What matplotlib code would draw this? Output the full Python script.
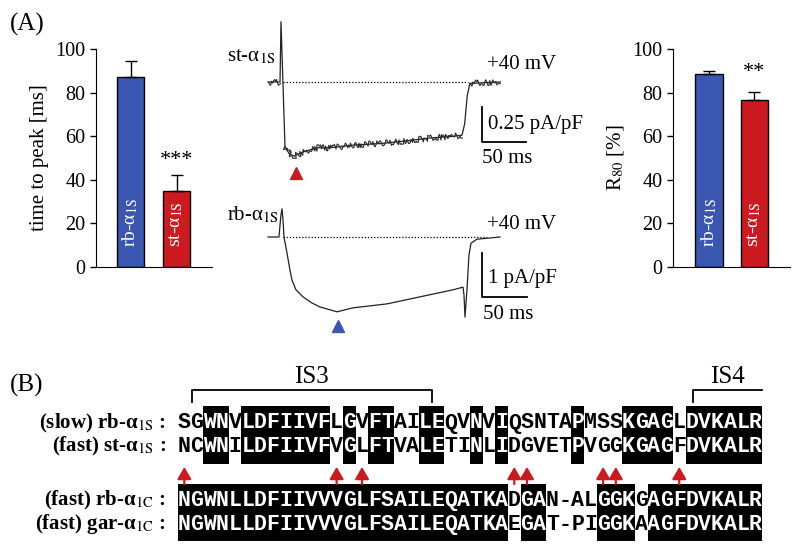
import numpy as np
import matplotlib
matplotlib.use("Agg")
import matplotlib.pyplot as plt
from matplotlib.patches import Rectangle

plt.rcParams['font.family'] = ['Liberation Serif', 'DejaVu Serif']
plt.rcParams['mathtext.fontset'] = 'stix'

AZUL = '#3a56b0'
ROJO = '#cc1b20'

# (A) barras
grupos = ['rb', 'st']
ttp_media = [87.2, 34.9]
ttp_err = [7.3, 7.3]
r80_media = [88.5, 76.5]
r80_err = [1.5, 3.9]

# (A) registros de corriente: tiempo [ms], corriente [pA/pF]
st_t = [0, 13.8, 14.9, 19.5, 24, 30, 40, 57, 71, 100, 129, 160, 186, 210, 223, 226, 229, 232, 267]
st_i = [0, 0, 0.43, -0.46, -0.51, -0.53, -0.50, -0.47, -0.47, -0.45, -0.44, -0.42, -0.40, -0.39, -0.38, -0.30, -0.10, -0.01, 0]
rb_t = [0, 12.2, 14.4, 15.6, 16.7, 17.8, 21.1, 24.4, 26.7, 31.1, 38.9, 48.9, 57.8, 76.7, 94.4,
        132.2, 168.9, 205.6, 216.7, 217.8, 218.9, 221.1, 223.3, 225.6, 232.2, 257.8]
rb_i = [0, 0, 0.5, 0.64, 0.39, 0, -0.36, -0.75, -0.98, -1.20, -1.36, -1.50, -1.59, -1.70, -1.61,
        -1.52, -1.36, -1.20, -1.14, -1.32, -1.82, -1.20, -0.41, -0.14, -0.05, 0]

# (B) alineamiento
etiquetas = ["(slow) rb-α$_{\\rm 1S}$ :", "(fast) st-α$_{\\rm 1S}$ :",
             "(fast) rb-α$_{\\rm 1C}$ :", "(fast) gar-α$_{\\rm 1C}$ :"]
secuencias = ["SGWNVLDFIIVFLGVFTAILEQVNVIQSNTAPMSSKGAGLDVKALR",
              "NCWNILDFIIVFVGLFTVALETINLIDGVETPVGGKGAGFDVKALR",
              "NGWNLLDFIIVVVGLFSAILEQATKADGAN-ALGGKGAGFDVKALR",
              "NGWNLLDFIIVVVGLFSAILEQATKAEGAT-PIGGKAAGFDVKALR"]
flechas = [0, 12, 14, 26, 27, 33, 34, 39]

W, H = 800, 551
fig = plt.figure(figsize=(W/100, H/100), dpi=100)

def Caja(x0, y0, x1, y1):
    return [x0/W, 1-y1/H, (x1-x0)/W, (y1-y0)/H]

def Barras(rect, medias, errs, xlim, ylabel, estrellas, y_est):
    ax = fig.add_axes(Caja(*rect))
    xs = np.arange(len(medias))
    ax.bar(xs, medias, width=0.6, color=[AZUL, ROJO], edgecolor='black', linewidth=1,
           yerr=[[0]*len(errs), errs],
           error_kw=dict(ecolor='black', elinewidth=1, capsize=4, capthick=1))
    for i, g in enumerate(grupos):
        ax.text(i, 9, g + "-α$_{\\rm 1S}$", rotation=90, color='white',
                ha='center', va='bottom', fontsize=14)
    ax.text(1, y_est, estrellas, ha='center', va='center', fontsize=16)
    ax.set_xlim(*xlim)
    ax.set_ylim(0, 100)
    ax.set_yticks(range(0, 101, 20))
    ax.set_xticks([])
    ax.tick_params(axis='y', labelsize=14.5, length=4, width=1)
    for s in ['top', 'right']:
        ax.spines[s].set_visible(False)
    ax.set_ylabel(ylabel, fontsize=15, labelpad=5)
    return ax

Barras((96, 49, 212, 267), ttp_media, ttp_err, (-0.75, 1.77), "time to peak [ms]", "***", 49)
Barras((673, 49, 790, 267), r80_media, r80_err, (-0.79, 1.78), "R$_{80}$ [%]", "**", 89)

def Registro(rect, t, i, xlim, ylim, color, pico, escala, ruido, base):
    ax = fig.add_axes(Caja(*rect))
    ax.set_xlim(*xlim)
    ax.set_ylim(*ylim)
    ax.axis('off')
    ax.plot(t, i, color='#222222', linewidth=0.9)
    for a, b in ruido:
        l, = ax.plot(t[a:b], i[a:b], color='#2a2a2a', linewidth=0.8)
        l.set_sketch_params(scale=3.0, length=1.2, randomness=10)
    ax.plot(base, [0, 0], color='black', linestyle=(0, (1, 1.5)), linewidth=0.9)
    ax.plot([pico[0]], [pico[1]], marker='^', color=color, markersize=8, linestyle='none')
    x0, y0, amp = escala
    ax.plot([x0, x0, x0+50], [y0+amp, y0, y0], color='black', linewidth=1.3)
    return ax

ax_st = Registro((220, 10, 600, 185), st_t, st_i, (-55.2, 381.6), (-0.736, 0.514),
                 ROJO, (32, -0.65), (246, -0.43, 0.25), [(0, 2), (3, 15), (17, 19)], [17, 230])
ax_st.text(0.018, 0.731, "st-α$_{\\rm 1S}$", transform=ax_st.transAxes, fontsize=15, va='center')
ax_st.text(0.703, 0.686, "+40 mV", transform=ax_st.transAxes, fontsize=15, va='center')
ax_st.text(0.705, 0.343, "0.25 pA/pF", transform=ax_st.transAxes, fontsize=15, va='center')
ax_st.text(0.689, 0.154, "50 ms", transform=ax_st.transAxes, fontsize=15, va='center')

ax_rb = Registro((220, 190, 600, 335), rb_t, rb_i, (-53.3, 368.9), (-2.227, 1.068),
                 AZUL, (77.8, -2.02), (237.8, -1.36, 1.0), [], [16.7, 243])
ax_rb.text(0.018, 0.828, "rb-α$_{\\rm 1S}$", transform=ax_rb.transAxes, fontsize=15, va='center')
ax_rb.text(0.703, 0.759, "+40 mV", transform=ax_rb.transAxes, fontsize=15, va='center')
ax_rb.text(0.705, 0.393, "1 pA/pF", transform=ax_rb.transAxes, fontsize=15, va='center')
ax_rb.text(0.692, 0.138, "50 ms", transform=ax_rb.transAxes, fontsize=15, va='center')

fig.text(10/W, 1-24/H, "(A)", fontsize=18, va='center')
fig.text(10/W, 1-385/H, "(B)", fontsize=18, va='center')

# (B) alineamiento: x en columnas, y en filas
x0_px, ancho = 178, 12.69
fila_px = 23.5
axb = fig.add_axes(Caja(0, 355, 800, 551))
axb.set_xlim(-x0_px/ancho, (W-x0_px)/ancho)
axb.set_ylim((551-423)/fila_px, (355-423)/fila_px)
axb.axis('off')
filas_y = [0, 1.02, 3.3, 4.3]

for bloque in [(0, 1), (2, 3)]:
    a, b = secuencias[bloque[0]], secuencias[bloque[1]]
    ya, yb = filas_y[bloque[0]], filas_y[bloque[1]]
    igual = [a[k] == b[k] and a[k] != '-' for k in range(len(a))]
    k = 0
    while k < len(a):
        if igual[k]:
            j = k
            while j < len(a) and igual[j]:
                j += 1
            axb.add_patch(Rectangle((k, ya-0.72), j-k, yb-ya+1.46, color='black', linewidth=0))
            k = j
        else:
            k += 1
    for fy, s in [(ya, a), (yb, b)]:
        for c, letra in enumerate(s):
            axb.text(c+0.5, fy, letra, ha='center', va='center', fontsize=15.5,
                     family='Liberation Mono', fontweight='bold',
                     color='white' if igual[c] else 'black')

for fy, et in zip(filas_y, etiquetas):
    axb.text(-0.95, fy, et, ha='right', va='center', fontsize=15, fontweight='bold')

for c in flechas:
    axb.annotate('', xy=(c+0.5, 1.87), xytext=(c+0.5, 2.6),
                 arrowprops=dict(arrowstyle='-|>,head_length=0.6,head_width=0.35',
                                 color=ROJO, lw=1.6, shrinkA=0, shrinkB=0, mutation_scale=12))

axb.plot([1.08, 1.08, 20, 20], [-0.9, -1.4, -1.4, -0.9], color='black', linewidth=1.3)
axb.text(10.5, -1.96, "IS3", ha='center', va='center', fontsize=18)
axb.plot([40.6, 40.6, 46.0], [-0.9, -1.4, -1.4], color='black', linewidth=1.3)
axb.text(43.3, -1.96, "IS4", ha='center', va='center', fontsize=18)

fig.savefig("out.png", dpi=100)
